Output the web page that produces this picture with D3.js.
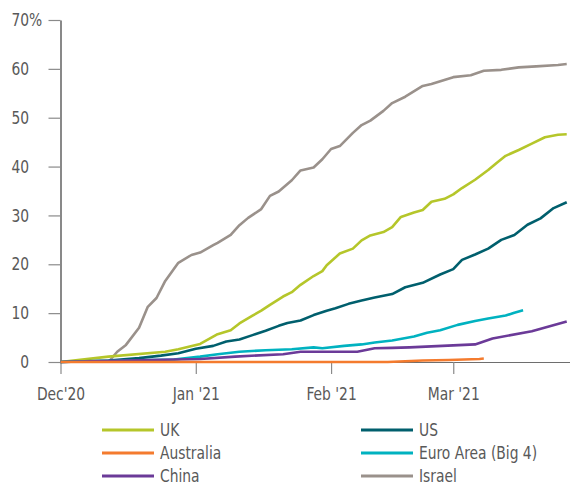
<!DOCTYPE html>
<html>
<head>
<meta charset="utf-8">
<script src="https://cdn.jsdelivr.net/npm/d3@7"></script>
<style>
  html, body { margin: 0; padding: 0; background: #fff; }
  svg { display: block; }
  .lbl { font-family: "DejaVu Sans Condensed", "Liberation Sans Narrow", sans-serif; font-size: 17.5px; fill: #595959; }
</style>
</head>
<body>
<svg id="chart" width="570" height="485"></svg>
<script>
// Cumulative vaccinations, % of population
const seriesNames = ["UK", "US", "Australia", "Euro Area (Big 4)", "China", "Israel"];
const seriesColors = ["#b5c62a", "#005f6d", "#f47b2e", "#00b2c0", "#6b3a98", "#9a918b"];

const ukValues = [
  ["2020-12-01", 0], ["2020-12-12", 1.1], ["2020-12-25", 2.1], ["2020-12-28", 2.6],
  ["2021-01-02", 3.7], ["2021-01-06", 5.7], ["2021-01-09", 6.5], ["2021-01-11", 7.9],
  ["2021-01-14", 9.5], ["2021-01-16", 10.5], ["2021-01-18", 11.7], ["2021-01-21", 13.4],
  ["2021-01-23", 14.3], ["2021-01-25", 15.8], ["2021-01-28", 17.6], ["2021-01-30", 18.6],
  ["2021-01-31", 19.8], ["2021-02-03", 22.2], ["2021-02-06", 23.2], ["2021-02-08", 24.9],
  ["2021-02-10", 25.9], ["2021-02-13", 26.6], ["2021-02-15", 27.6], ["2021-02-17", 29.7],
  ["2021-02-20", 30.6], ["2021-02-22", 31.1], ["2021-02-24", 32.8], ["2021-02-27", 33.4],
  ["2021-03-01", 34.3], ["2021-03-03", 35.6], ["2021-03-06", 37.3], ["2021-03-09", 39.3],
  ["2021-03-11", 40.8], ["2021-03-13", 42.2], ["2021-03-16", 43.4], ["2021-03-19", 44.7],
  ["2021-03-22", 46.0], ["2021-03-25", 46.5], ["2021-03-27", 46.6]
];
const usValues = [
  ["2020-12-01", 0], ["2020-12-12", 0.3], ["2020-12-19", 0.8], ["2020-12-24", 1.3],
  ["2020-12-28", 1.8], ["2021-01-01", 2.7], ["2021-01-05", 3.3], ["2021-01-08", 4.2],
  ["2021-01-11", 4.6], ["2021-01-14", 5.5], ["2021-01-17", 6.4], ["2021-01-20", 7.4],
  ["2021-01-22", 8.0], ["2021-01-25", 8.5], ["2021-01-28", 9.6], ["2021-01-31", 10.5],
  ["2021-02-02", 11.0], ["2021-02-05", 11.9], ["2021-02-08", 12.6], ["2021-02-11", 13.2],
  ["2021-02-15", 13.9], ["2021-02-18", 15.3], ["2021-02-22", 16.2], ["2021-02-26", 17.9],
  ["2021-03-01", 19.0], ["2021-03-03", 20.9], ["2021-03-06", 22.0], ["2021-03-09", 23.2],
  ["2021-03-12", 25.0], ["2021-03-15", 26.0], ["2021-03-18", 28.1], ["2021-03-21", 29.4],
  ["2021-03-24", 31.5], ["2021-03-27", 32.7]
];
const australiaValues = [
  ["2020-12-01", 0], ["2021-02-14", 0], ["2021-02-22", 0.3], ["2021-02-28", 0.4],
  ["2021-03-07", 0.6], ["2021-03-08", 0.7]
];
const euroAreaValues = [
  ["2020-12-01", 0], ["2020-12-27", 0.5], ["2021-01-02", 1.1], ["2021-01-06", 1.6],
  ["2021-01-11", 2.1], ["2021-01-17", 2.4], ["2021-01-23", 2.6], ["2021-01-28", 3.0],
  ["2021-01-30", 2.8], ["2021-02-04", 3.3], ["2021-02-08", 3.6], ["2021-02-11", 4.0],
  ["2021-02-15", 4.4], ["2021-02-20", 5.2], ["2021-02-23", 6.0], ["2021-02-26", 6.5],
  ["2021-03-02", 7.6], ["2021-03-06", 8.4], ["2021-03-09", 8.9], ["2021-03-13", 9.5],
  ["2021-03-15", 10.1], ["2021-03-17", 10.6]
];
const chinaValues = [
  ["2020-12-01", 0], ["2020-12-16", 0.3], ["2021-01-02", 0.6], ["2021-01-10", 1.1],
  ["2021-01-21", 1.6], ["2021-01-25", 2.1], ["2021-02-07", 2.1], ["2021-02-11", 2.8],
  ["2021-02-15", 2.9], ["2021-02-19", 3.0], ["2021-03-06", 3.6], ["2021-03-10", 4.8],
  ["2021-03-19", 6.3], ["2021-03-27", 8.3]
];
const israelValues = [
  ["2020-12-12", 0], ["2020-12-14", 2.1], ["2020-12-16", 3.5], ["2020-12-19", 7.0],
  ["2020-12-21", 11.3], ["2020-12-23", 13.1], ["2020-12-25", 16.6], ["2020-12-28", 20.3],
  ["2020-12-31", 21.9], ["2021-01-02", 22.4], ["2021-01-05", 23.9], ["2021-01-06", 24.4],
  ["2021-01-09", 26.0], ["2021-01-11", 28.0], ["2021-01-13", 29.5], ["2021-01-16", 31.3],
  ["2021-01-18", 34.0], ["2021-01-20", 34.9], ["2021-01-23", 37.2], ["2021-01-25", 39.2],
  ["2021-01-28", 39.8], ["2021-01-30", 41.5], ["2021-02-01", 43.6], ["2021-02-03", 44.2],
  ["2021-02-06", 46.9], ["2021-02-08", 48.5], ["2021-02-10", 49.4], ["2021-02-13", 51.4],
  ["2021-02-15", 53.0], ["2021-02-18", 54.3], ["2021-02-22", 56.5], ["2021-02-24", 56.9],
  ["2021-03-01", 58.3], ["2021-03-05", 58.7], ["2021-03-08", 59.6], ["2021-03-12", 59.8],
  ["2021-03-16", 60.3], ["2021-03-20", 60.5], ["2021-03-25", 60.8], ["2021-03-27", 61.0]
];

const xTickDates = ["2020-12-01", "2021-01-01", "2021-02-01", "2021-03-01"];
const xTickLabels = ["Dec'20", "Jan '21", "Feb '21", "Mar '21"];
const yTickValues = [0, 10, 20, 30, 40, 50, 60, 70];

const parse = d3.timeParse("%Y-%m-%d");
const seriesData = [ukValues, usValues, australiaValues, euroAreaValues, chinaValues, israelValues]
  .map((vals, i) => ({
    name: seriesNames[i],
    color: seriesColors[i],
    points: vals.map(([d, v]) => ({ date: parse(d), value: v }))
  }));

// labels are set in a narrowed face
const narrow = 0.88;
function narrowText(sel) {
  sel.each(function () {
    const t = d3.select(this);
    const x0 = +(t.attr("x") || 0);
    t.attr("x", x0 / narrow).attr("transform", `scale(${narrow},1)`);
  });
}

const svg = d3.select("#chart");
const x = d3.scaleTime()
  .domain([new Date(2020, 11, 1), new Date(2021, 2, 27, 18)])
  .range([60.5, 570]);
const y = d3.scaleLinear().domain([0, 70]).range([362, 20]);

// x axis
const xAxis = d3.axisBottom(x)
  .tickValues(xTickDates.map(parse))
  .tickFormat((d, i) => xTickLabels[i])
  .tickSize(12).tickSizeOuter(0).tickPadding(13.5);
const gx = svg.append("g").attr("transform", `translate(0,${y(0)})`).call(xAxis);
gx.select(".domain").attr("stroke", "#6e6e6e").attr("stroke-width", 1.2);
gx.selectAll(".tick line").attr("stroke", "#8a8a8a").attr("stroke-width", 1.2);
gx.selectAll(".tick text").attr("class", "lbl").attr("fill", null).call(narrowText);

// y axis
const yAxis = d3.axisLeft(y)
  .tickValues(yTickValues)
  .tickSize(12).tickSizeOuter(0).tickPadding(19.5);
const gy = svg.append("g").attr("transform", `translate(60.5,0)`).call(yAxis);
gy.select(".domain").attr("stroke", "#4a4a4a").attr("stroke-width", 1.3);
gy.selectAll(".tick line").attr("stroke", "#8a8a8a").attr("stroke-width", 1.2);
gy.selectAll(".tick text").attr("class", "lbl").attr("fill", null).call(narrowText);
// percent sign on the top tick
svg.append("text").attr("class", "lbl")
  .attr("x", 60.5 - 12 - 19.5).attr("y", y(70)).attr("dy", "0.32em")
  .attr("text-anchor", "start").text("%").call(narrowText);

// series lines (Israel underneath, Australia on top)
const line = d3.line().x(d => x(d.date)).y(d => y(d.value)).curve(d3.curveLinear);
const drawOrder = ["Israel", "UK", "US", "Euro Area (Big 4)", "China", "Australia"];
drawOrder.forEach(name => {
  const s = seriesData.find(d => d.name === name);
  svg.append("path").datum(s.points)
    .attr("fill", "none")
    .attr("stroke", s.color)
    .attr("stroke-width", 2.6)
    .attr("stroke-linejoin", "round")
    .attr("stroke-linecap", "butt")
    .attr("d", line);
});

// legend, two columns
const legendCols = [102, 361];
const legendRows = [430, 453, 476];
seriesData.forEach((s, i) => {
  const lx = legendCols[i % 2], ly = legendRows[Math.floor(i / 2)];
  svg.append("line").attr("x1", lx).attr("x2", lx + 52).attr("y1", ly).attr("y2", ly)
    .attr("stroke", s.color).attr("stroke-width", 3);
  svg.append("text").attr("class", "lbl").attr("x", lx + 58).attr("y", ly + 6)
    .text(s.name).call(narrowText);
});
</script>
</body>
</html>
